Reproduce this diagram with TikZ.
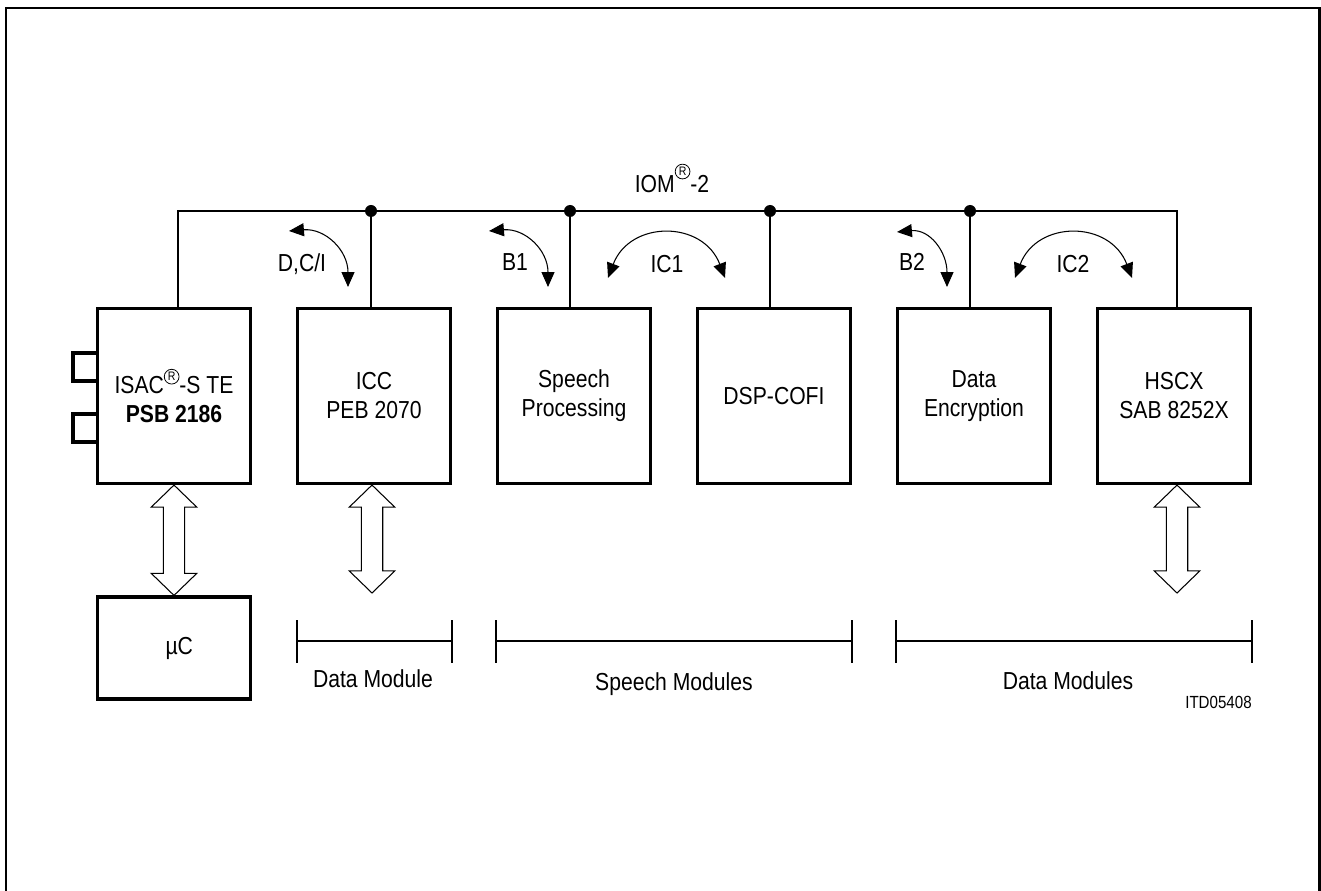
\documentclass[tikz,border=0pt]{standalone}
\usepackage{fontspec}
\setmainfont{Liberation Sans}[FakeStretch=0.86]
\usepackage{tikz}
\usetikzlibrary{arrows.meta,calc}

\newcommand{\diafont}{\fontsize{14}{16.5}\selectfont}
\newcommand{\regmark}{\tikz[baseline=-9.8pt]\node[circle, draw, line width=0.45pt, inner sep=0pt, minimum size=8.4pt, font=\fontsize{7}{7}\selectfont] (r) at (0,0) {R};}
% hollow double arrow, #1 = top end, #2 = bottom end (x taken from #2)
\newcommand{\hollowarrow}[2]{%
	\draw[hollow] let \p1=(#1), \p2=(#2) in
	(\x2,\y1) -- (\x2+13pt,\y1-12.6pt) -- (\x2+6.1pt,\y1-12.6pt) -- (\x2+6.1pt,\y2+12.6pt)
	-- (\x2+13pt,\y2+12.6pt) -- (\x2,\y2) -- (\x2-13pt,\y2+12.6pt) -- (\x2-6.1pt,\y2+12.6pt)
	-- (\x2-6.1pt,\y1-12.6pt) -- (\x2-13pt,\y1-12.6pt) -- cycle;}

\tikzset{
	module/.style={draw, line width=1.8pt, minimum width=3.06cm, minimum height=3.5cm, align=center, inner sep=0pt},
	port/.style={line width=1.8pt},
	bus/.style={line width=0.8pt},
	flow/.style={line width=0.6pt, {Triangle[length=8.5pt,width=7.4pt]}-{Triangle[length=8.5pt,width=7.4pt]}},
	hollow/.style={line width=0.6pt},
	span/.style={line width=0.7pt},
	lbl/.style={inner sep=0pt, anchor=base},
}

\begin{document}
\begin{tikzpicture}[x=0.02cm, y=-0.02cm, font=\diafont]
	\useasboundingbox (0,0) rectangle (1321,891);
	\draw[line width=1.2pt] (6,891) -- (6,7.7) -- (1319.5,7.7) -- (1319.5,891);

	% modules
	\node[module] (isac) at (174,396) {ISAC\regmark-S TE\\\textbf{PSB 2186}};
	\node[module] (icc) at (374,396) {ICC\\PEB 2070};
	\node[module] (speech) at (574,396) {Speech\\Processing};
	\node[module] (dsp) at (774,396) {DSP-COFI};
	\node[module] (enc) at (974,396) {Data\\Encryption};
	\node[module] (hscx) at (1174,396) {HSCX\\SAB 8252X};
	\node[module, minimum height=2.04cm] (mc) at (174,648) {\hspace{6pt}µC};

	% ports on the ISAC
	\draw[port] (isac.west |- 0,353) -- ++(-23,0) -- ++(0,28) -- ++(23,0);
	\draw[port] (isac.west |- 0,414) -- ++(-23,0) -- ++(0,28) -- ++(23,0);

	% IOM-2 bus
	\coordinate (busL) at (178,211);
	\coordinate (busR) at (1177,211);
	\coordinate (j1) at (371,211);
	\coordinate (j2) at (570,211);
	\coordinate (j3) at (770,211);
	\coordinate (j4) at (970,211);
	\draw[bus] (busL |- isac.north) -- (busL) -- (busR) -- (busR |- hscx.north);
	\foreach \j/\m in {j1/icc, j2/speech, j3/dsp, j4/enc}{
		\draw[bus] (\j) -- (\j |- \m.north);
		\fill (\j) circle[radius=6];
	}
	\node[lbl] (iom) at (672,193) {IOM\regmark-2};

	% channels
	\draw[flow] (289,231) .. controls (325,228) and (348,250) .. (348,287);
	\draw[flow] (489,231) .. controls (525,228) and (548,250) .. (548,287);
	\draw[flow] (608,278) .. controls (630,220) and (703,220) .. (725,278);
	\draw[flow] (897,232) .. controls (930,229) and (947,252) .. (947,287);
	\draw[flow] (1015,278) .. controls (1037,220) and (1110,220) .. (1132,278);
	\node[lbl] (dci) at (302,271.5) {D,C/I};
	\node[lbl] (b1) at (515,270.5) {B1};
	\node[lbl] (ic1) at (667,272.5) {IC1};
	\node[lbl] (b2) at (912,270.5) {B2};
	\node[lbl] (ic2) at (1073,272.5) {IC2};

	% parallel interfaces
	\coordinate (iccend) at (372,593);
	\coordinate (hscxend) at (1177,593);
	\hollowarrow{isac.south}{mc.north}
	\hollowarrow{icc.south}{iccend}
	\hollowarrow{hscx.south}{hscxend}

	% module groups
	\foreach \a/\b in {297/452, 496/852, 896/1252}
	\draw[span] (\a,620) -- (\a,663) (\a,641) -- (\b,641) (\b,620) -- (\b,663);
	\node[lbl] (datamod) at (373,687) {Data Module};
	\node[lbl] (speechmod) at (674,690) {Speech Modules};
	\node[lbl] (datamods) at (1068,689) {Data Modules};
	\node[lbl, anchor=base east, font=\fontsize{10}{12}\selectfont] (itd) at (1252,708) {ITD05408};
\end{tikzpicture}
\end{document}
